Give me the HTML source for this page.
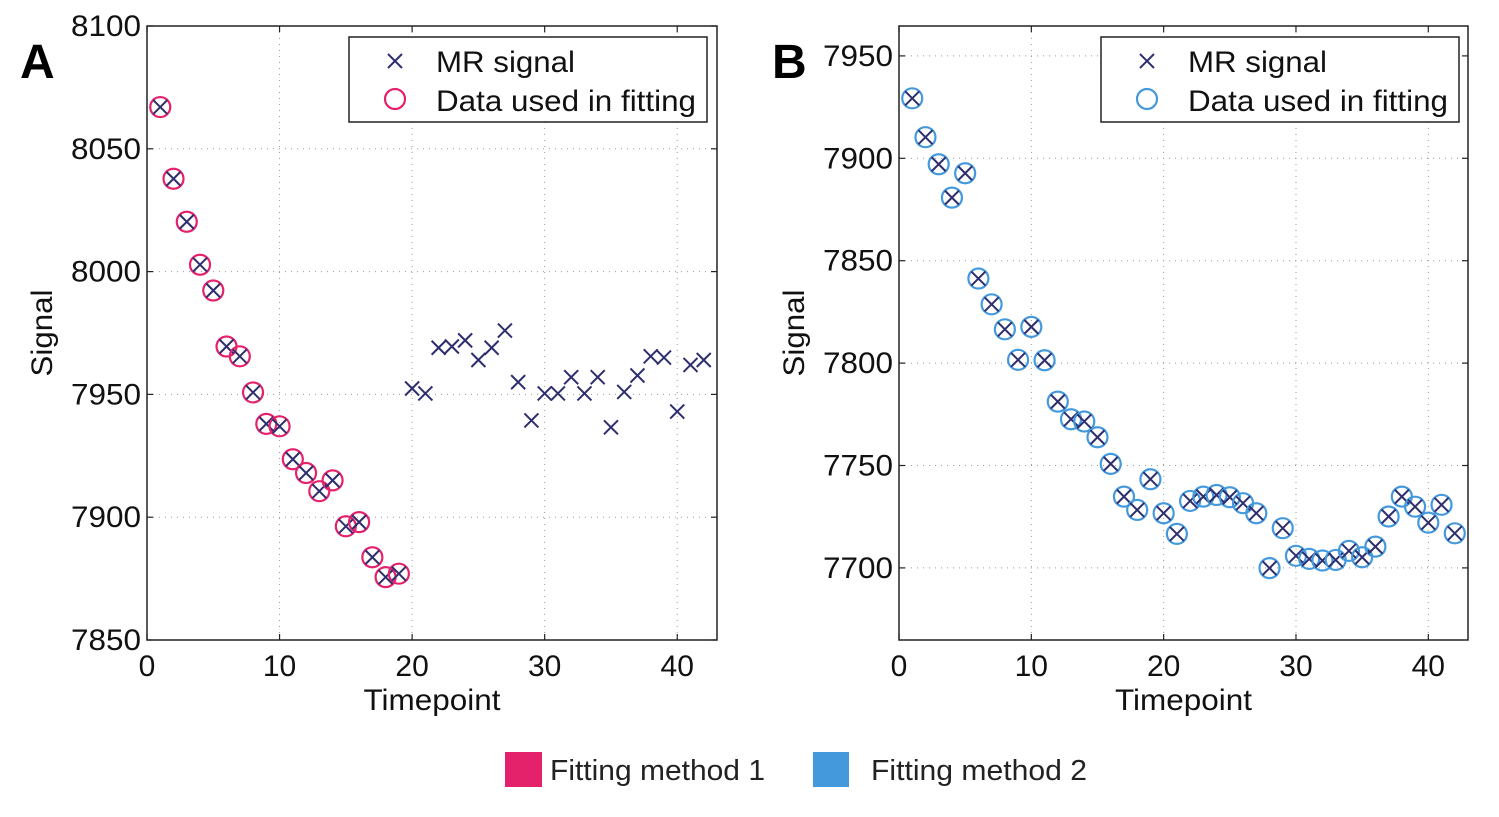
<!DOCTYPE html>
<html><head><meta charset="utf-8"><style>
html,body{margin:0;padding:0;background:#fff;}
svg{display:block;font-family:"Liberation Sans",sans-serif;}
</style></head><body>
<svg id="fig" width="1499" height="817"></svg>
<script>
const timepoints = [1,2,3,4,5,6,7,8,9,10,11,12,13,14,15,16,17,18,19,20,21,22,23,24,25,26,27,28,29,30,31,32,33,34,35,36,37,38,39,40,41,42];
const signalA = [8067,8037.8,8020.3,8002.8,7992.3,7969.5,7965.5,7950.8,7938,7937,7923.6,7918,7910.6,7915,7896.3,7898,7883.7,7875.6,7877,7952.4,7950.4,7969,7969.5,7972,7964,7969,7976,7955,7939.4,7950.4,7950.4,7957,7950.4,7957,7936.6,7951,7957.7,7965.5,7965,7943,7962,7964];
const fittedCountA = 19;
const signalB = [7929.3,7910.3,7897.1,7880.8,7892.7,7841.3,7828.7,7816.5,7801.6,7817.7,7801.4,7781.2,7772.6,7771.5,7763.8,7750.8,7734.8,7728.3,7743.3,7726.7,7716.6,7732.7,7734.8,7735.6,7734.5,7731.6,7726.7,7699.9,7719.4,7705.9,7704.4,7703.6,7703.9,7708.3,7705.2,7710.4,7725.1,7734.8,7729.9,7722.1,7730.8,7716.9];
const fittedCountB = 42;
const xTicks = [0,10,20,30,40];
const yTicksA = [7850,7900,7950,8000,8050,8100];
const yTicksB = [7700,7750,7800,7850,7900,7950];

const NS='http://www.w3.org/2000/svg';
const svg=document.getElementById('fig');
function mk(tag,attrs,parent){const e=document.createElementNS(NS,tag);for(const k in attrs)e.setAttribute(k,attrs[k]);(parent||svg).appendChild(e);return e;}

function panel(opt){
  const g=mk('g',{});
  
  
  const L=opt.L,R=opt.R,T=26,B=640;
  const xs=v=>L+(v-0)/43*(R-L);
  const ys=v=>B-(v-opt.ymin)/(opt.ymax-opt.ymin)*(B-T);
  xTicks.forEach(t=>{ if(t>0){const l=mk('line',{x1:xs(t),x2:xs(t),y1:T,y2:B,stroke:'#999','stroke-width':1,'stroke-dasharray':'1,5'},g);
    }});
  opt.yt.forEach(t=>{const y=ys(t);if(y>T+1&&y<B-1){const l=mk('line',{x1:L,x2:R,y1:y,y2:y,stroke:'#999','stroke-width':1,'stroke-dasharray':'1,5'},g);
    }});
  const box=mk('rect',{x:L,y:T,width:R-L,height:B-T,fill:'none',stroke:'#222','stroke-width':1.5},g);
  
  xTicks.forEach(t=>{const x=xs(t);
    mk('line',{x1:x,x2:x,y1:B,y2:B-6,stroke:'#222','stroke-width':1.2},g);
    mk('line',{x1:x,x2:x,y1:T,y2:T+6,stroke:'#222','stroke-width':1.2},g);
    const tx=mk('text',{x:x,y:B+36,'font-size':30,'text-anchor':'middle',fill:'#111'},g);tx.textContent=t;
    });
  opt.yt.forEach(t=>{const y=ys(t);
    mk('line',{x1:L,x2:L+6,y1:y,y2:y,stroke:'#222','stroke-width':1.2},g);
    mk('line',{x1:R,x2:R-6,y1:y,y2:y,stroke:'#222','stroke-width':1.2},g);
    const tx=mk('text',{x:L-6,y:y+10,'font-size':30,'text-anchor':'end',fill:'#111',textLength:70,lengthAdjust:'spacingAndGlyphs'},g);tx.textContent=t;
    });
  const xl=mk('text',{x:(L+R)/2,y:710,'font-size':30,'text-anchor':'middle',fill:'#111',textLength:137,lengthAdjust:'spacingAndGlyphs'},g);xl.textContent='Timepoint';
  
  const yl=mk('text',{x:0,y:0,'font-size':30,'text-anchor':'middle',fill:'#111',textLength:87,lengthAdjust:'spacingAndGlyphs',transform:`translate(${L-95},${(T+B)/2}) rotate(-90)`},g);yl.textContent='Signal';
  
  const pl=mk('text',{x:L-127,y:78,'font-size':48,'font-weight':'bold',fill:'#000'},g);pl.textContent=opt.letter;
  
  opt.vals.forEach((v,i)=>{
    const cx=xs(timepoints[i]),cy=ys(v);
    if(i<opt.fit){const c=mk('circle',{cx:cx,cy:cy,r:10,fill:'none',stroke:opt.color,'stroke-width':2.2},g);
      }
    const p=mk('path',{d:`M${cx-7},${cy-7}L${cx+7},${cy+7}M${cx-7},${cy+7}L${cx+7},${cy-7}`,stroke:'#2e2e6e','stroke-width':2,fill:'none'},g);
    
  });
  const lg=mk('g',{},g);
  const lx=opt.legX;
  mk('rect',{x:lx,y:37,width:358,height:85,fill:'#fff',stroke:'#222','stroke-width':1.5},lg);
  mk('path',{d:`M${lx+39},${54}L${lx+53},${68}M${lx+39},${68}L${lx+53},${54}`,stroke:'#2e2e6e','stroke-width':2},lg);
  mk('circle',{cx:lx+46,cy:99,r:10,fill:'none',stroke:opt.color,'stroke-width':2.2},lg);
  const t1=mk('text',{x:lx+87,y:72,'font-size':30,fill:'#111',textLength:139,lengthAdjust:'spacingAndGlyphs'},lg);t1.textContent='MR signal';
  
  const t2=mk('text',{x:lx+87,y:111,'font-size':30,fill:'#111',textLength:260,lengthAdjust:'spacingAndGlyphs'},lg);t2.textContent='Data used in fitting';
  
}
panel({name:'panel-a',L:147,R:717,ymin:7850,ymax:8100,yt:yTicksA,vals:signalA,fit:fittedCountA,color:'#e4226c',letter:'A',legX:349});
panel({name:'panel-b',L:899,R:1468,ymin:7664.8,ymax:7964.6,yt:yTicksB,vals:signalB,fit:fittedCountB,color:'#4499dd',letter:'B',legX:1101});

const bl=mk('g',{});
mk('rect',{x:505,y:752,width:37,height:35,fill:'#e4226c'},bl);
const m1=mk('text',{x:550,y:780,'font-size':29,fill:'#222',textLength:215,lengthAdjust:'spacingAndGlyphs'},bl);m1.textContent='Fitting method 1';

mk('rect',{x:813,y:752,width:36,height:35,fill:'#4499dd'},bl);
const m2=mk('text',{x:871,y:780,'font-size':29,fill:'#222',textLength:216,lengthAdjust:'spacingAndGlyphs'},bl);m2.textContent='Fitting method 2';

</script>
</body></html>
